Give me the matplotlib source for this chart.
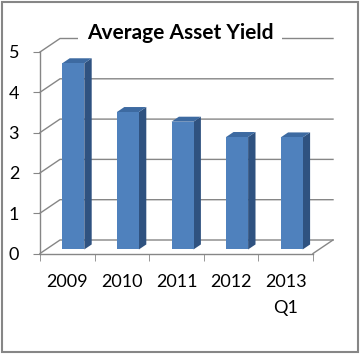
import matplotlib
matplotlib.use('Agg')
import matplotlib.pyplot as plt
from matplotlib.patches import Polygon, Rectangle

categories = ['2009', '2010', '2011', '2012', '2013\nQ1']
values = [4.62, 3.41, 3.17, 2.79, 2.78]
yticks = [0, 1, 2, 3, 4, 5]
title = 'Average Asset Yield'

grid = '#868686'
face = '#4f81bd'
top_c = '#3d6aa1'
side_c = '#2f5280'

plt.rcParams['font.family'] = ['Lato', 'DejaVu Sans']

W, H = 360, 354
fig = plt.figure(figsize=(W / 100, H / 100), dpi=100)
ax = fig.add_axes([40 / W, 1 - 253.5 / H, 273 / W, 201.5 / H])
n = len(categories)
ax.set_xlim(-0.5, n - 0.5)
ax.set_ylim(0, yticks[-1])

# depth of the fake 3d box (pixels) in data units
px_x = 273 / n
px_y = 201.5 / yticks[-1]
ddx, ddy = 20 / px_x, 13.5 / px_y


def proj(x, y, d):
    return (x + ddx * d, y + ddy * d)


# back wall gridlines + side diagonals
for v in yticks:
    pts = [proj(-0.5, v, 0), proj(-0.5, v, 1), proj(n - 0.5, v, 1)]
    ax.plot([p[0] for p in pts], [p[1] for p in pts], color=grid, lw=1,
            clip_on=False, zorder=1)
p0, p1 = proj(n - 0.5, 0, 0), proj(n - 0.5, 0, 1)
ax.plot([p0[0], p1[0]], [p0[1], p1[1]], color=grid, lw=1, clip_on=False, zorder=1)

# bars
bw = 22 / px_x
d0, d1 = 0.3, 0.67
for i, v in enumerate(values):
    xl, xr = i - bw / 2, i + bw / 2
    side = [proj(xr, 0, d0), proj(xr, v, d0), proj(xr, v, d1), proj(xr, 0, d1)]
    top = [proj(xl, v, d0), proj(xr, v, d0), proj(xr, v, d1), proj(xl, v, d1)]
    front = [proj(xl, 0, d0), proj(xr, 0, d0), proj(xr, v, d0), proj(xl, v, d0)]
    ax.add_patch(Polygon(side, closed=True, fc=side_c, ec='none', clip_on=False, zorder=3))
    ax.add_patch(Polygon(top, closed=True, fc=top_c, ec='none', clip_on=False, zorder=3))
    ax.add_patch(Polygon(front, closed=True, fc=face, ec='none', clip_on=False, zorder=3))

for s in ['top', 'right']:
    ax.spines[s].set_visible(False)
for s in ['left', 'bottom']:
    ax.spines[s].set_color(grid)
    ax.spines[s].set_linewidth(1)
ax.patch.set_visible(False)

ax.set_yticks(yticks)
ax.tick_params(axis='y', direction='out', length=5, color=grid, labelsize=13,
               pad=10, labelcolor='black')
ax.set_xticks(range(n))
ax.set_xticklabels(categories, fontsize=13, linespacing=1.75)
ax.tick_params(axis='x', which='major', length=0, pad=15)
ax.set_xticks([i - 0.5 for i in range(n + 1)], minor=True)
ax.tick_params(axis='x', which='minor', direction='out', length=5, color=grid)

fig.text(180 / W, 1 - 39 / H, title, ha='center', va='baseline',
         fontsize=15, fontweight='bold',
         bbox=dict(fc='white', ec='none', pad=6))

fig.patches.append(Rectangle((1.5 / W, 2.5 / H), 356 / W, 350 / H,
                             transform=fig.transFigure, fill=False,
                             ec=grid, lw=1.5))

fig.savefig('out.png', dpi=100)
